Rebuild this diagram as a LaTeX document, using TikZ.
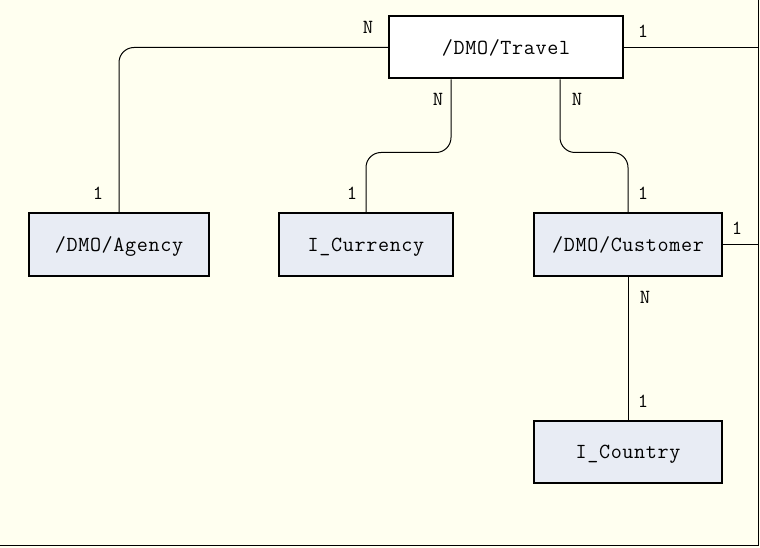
\documentclass[tikz,border=0pt]{standalone}
\usepackage{fontspec}
\newfontfamily\boxfont[LetterSpace=3]{Latin Modern Mono}
\newfontfamily\lblfont{Latin Modern Mono}
\definecolor{bgc}{HTML}{FFFFF0}
\definecolor{entfill}{HTML}{E8ECF4}
\begin{document}
\begin{tikzpicture}[x=1pt,y=-1pt,
  ent/.style={draw=black,line width=2pt,fill=entfill,minimum height=62pt,inner sep=0pt,text depth=0pt,font=\boxfont\fontsize{21.5}{24}\selectfont},
  root/.style={ent,fill=white},
  conn/.style={line width=1pt,rounded corners=15pt},
  card/.style={inner sep=0pt,font=\lblfont\fontsize{20}{22}\selectfont}]
\fill[bgc] (0,0) rectangle (760,548);
\useasboundingbox (0,0) rectangle (760,548);
\coordinate (edgeR) at (758,0);
\coordinate (edgeB) at (0,545);
\draw[line width=1pt] (edgeR) -- (758,545) -- (edgeB);

\node[root,minimum width=234pt] (travel) at (506,47.5) {/DMO/Travel};
\node[ent,minimum width=180pt] (agency) at (119,244.5) {/DMO/Agency};
\node[ent,minimum width=174pt] (currency) at (366,244.5) {I\_Currency};
\node[ent,minimum width=188pt] (customer) at (628,244.5) {/DMO/Customer};
\node[ent,minimum width=188pt] (country) at (628,452) {I\_Country};

\coordinate (t1) at ([xshift=63pt]travel.south west);
\coordinate (t2) at ([xshift=172pt]travel.south west);

\draw[conn] (travel.west) -| (agency.north);
\draw[conn] (t1) -- ++(0,73) -| (currency.north);
\draw[conn] (t2) -- ++(0,73) -| (customer.north);
\draw[conn] (travel.east) -- (travel.east -| edgeR);
\draw[conn] (customer.east) -- (customer.east -| edgeR);
\draw[conn] (customer.south) -- (country.north);

\node[card] (c1) at (368,27) {N};
\node[card] (c2) at (643,31) {1};
\node[card] (c3) at (438,99) {N};
\node[card] (c4) at (577,99) {N};
\node[card] (c5) at (98,193) {1};
\node[card] (c6) at (352,193) {1};
\node[card] (c7) at (643,193) {1};
\node[card] (c8) at (737,228) {1};
\node[card] (c9) at (645,297) {N};
\node[card] (c10) at (643,401) {1};
\end{tikzpicture}
\end{document}
